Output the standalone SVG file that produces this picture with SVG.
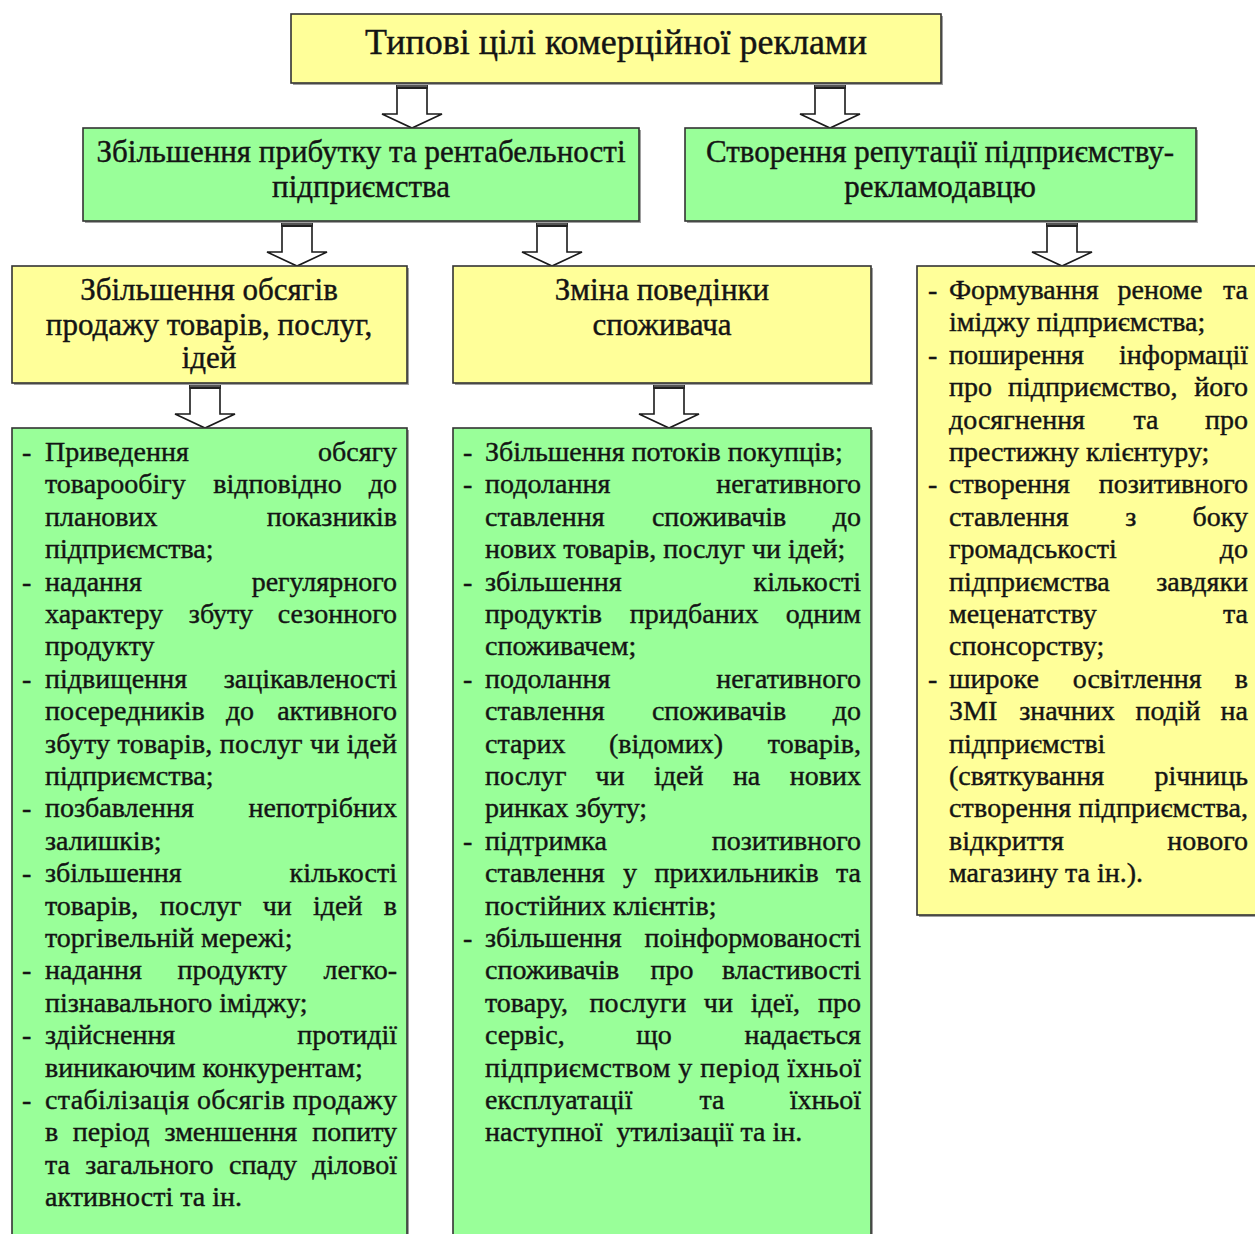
<svg xmlns="http://www.w3.org/2000/svg" xmlns:xlink="http://www.w3.org/1999/xlink" width="1255" height="1234" viewBox="0 0 1255 1234">
<style>
text{font-family:"Liberation Serif","Times New Roman",serif;fill:#141414;stroke:#141414;stroke-width:0.4}
.by{fill:#FFFF99;stroke:#333;stroke-width:1.6}
.bg{fill:#99FF99;stroke:#333;stroke-width:1.6}
.sh{fill:#a0a0a0}
.t{font-size:36px;text-anchor:middle}
.h{font-size:31px;text-anchor:middle}
.b text,.b{font-size:28px}
.m{text-anchor:middle}
.e{text-anchor:end}
.arw{fill:#fff;stroke:#1a1a1a;stroke-width:1.6;stroke-linejoin:miter}
.cap{fill:#222}
</style>
<defs>
<g id="arrow">
<polygon class="arw" points="-15,0 15,0 15,31 30,31 0,45 -30,31 -15,31"/>
<rect class="cap" x="-15.8" y="0" width="31.6" height="6"/>
<line x1="-15" y1="3" x2="15" y2="3" stroke="#888" stroke-width="1"/>
</g>
</defs>
<rect width="1255" height="1234" fill="#fff"/>

<g id="connectors">
<use xlink:href="#arrow" x="412" y="83"/>
<use xlink:href="#arrow" x="830" y="83"/>
<use xlink:href="#arrow" x="297" y="221"/>
<use xlink:href="#arrow" x="552" y="221"/>
<use xlink:href="#arrow" x="1062" y="221"/>
<use xlink:href="#arrow" x="205" y="383"/>
<use xlink:href="#arrow" x="669" y="383"/>
</g>

<g id="node-top">
<rect class="sh" x="293" y="16" width="650" height="69"/>
<rect class="by" x="291" y="14" width="650" height="69"/>
<text class="t" x="616" y="54">Типові цілі комерційної реклами</text>
</g>

<g id="node-profit">
<rect class="sh" x="85" y="130" width="556" height="93"/>
<rect class="bg" x="83" y="128" width="556" height="93"/>
<text class="h" x="361" y="162">Збільшення прибутку та рентабельності</text>
<text class="h" x="361" y="197">підприємства</text>
</g>

<g id="node-reputation">
<rect class="sh" x="687" y="130" width="511" height="93"/>
<rect class="bg" x="685" y="128" width="511" height="93"/>
<text class="h" x="940" y="162">Створення репутації підприємству-</text>
<text class="h" x="940" y="197">рекламодавцю</text>
</g>

<g id="node-sales">
<rect class="sh" x="14" y="268" width="395" height="117"/>
<rect class="by" x="12" y="266" width="395" height="117"/>
<text class="h" x="209" y="300">Збільшення обсягів</text>
<text class="h" x="209" y="335">продажу товарів, послуг,</text>
<text class="h" x="209" y="368">ідей</text>
</g>

<g id="node-behaviour">
<rect class="sh" x="455" y="268" width="418" height="117"/>
<rect class="by" x="453" y="266" width="418" height="117"/>
<text class="h" x="662" y="300">Зміна поведінки</text>
<text class="h" x="662" y="335">споживача</text>
</g>

<g id="node-reputation-list" class="b">
<rect class="sh" x="919" y="268" width="345" height="649"/>
<rect class="by" x="917" y="266" width="345" height="649"/>
<text x="928" y="299">-</text><text x="949" y="299">Формування</text><text class="m" x="1160" y="299">реноме</text><text class="e" x="1248" y="299">та</text>
<text x="949" y="331.4">іміджу підприємства;</text>
<text x="928" y="363.8">-</text><text x="949" y="363.8">поширення</text><text class="e" x="1248" y="363.8">інформації</text>
<text x="949" y="396.2">про</text><text class="m" x="1092.8" y="396.2">підприємство,</text><text class="e" x="1248" y="396.2">його</text>
<text x="949" y="428.6">досягнення</text><text class="m" x="1146" y="428.6">та</text><text class="e" x="1248" y="428.6">про</text>
<text x="949" y="461">престижну клієнтуру;</text>
<text x="928" y="493.4">-</text><text x="949" y="493.4">створення</text><text class="e" x="1248" y="493.4">позитивного</text>
<text x="949" y="525.8">ставлення</text><text class="m" x="1130.9" y="525.8">з</text><text class="e" x="1248" y="525.8">боку</text>
<text x="949" y="558.2">громадськості</text><text class="e" x="1248" y="558.2">до</text>
<text x="949" y="590.6">підприємства</text><text class="e" x="1248" y="590.6">завдяки</text>
<text x="949" y="623">меценатству</text><text class="e" x="1248" y="623">та</text>
<text x="949" y="655.4">спонсорству;</text>
<text x="928" y="687.8">-</text><text x="949" y="687.8">широке</text><text class="m" x="1137.2" y="687.8">освітлення</text><text class="e" x="1248" y="687.8">в</text>
<text x="949" y="720.2">ЗМІ</text><text class="m" x="1067" y="720.2">значних</text><text class="m" x="1168" y="720.2">подій</text><text class="e" x="1248" y="720.2">на</text>
<text x="949" y="752.6">підприємстві</text>
<text x="949" y="785">(святкування</text><text class="e" x="1248" y="785">річниць</text>
<text x="949" y="817.4" textLength="299" lengthAdjust="spacing">створення підприємства,</text>
<text x="949" y="849.8">відкриття</text><text class="e" x="1248" y="849.8">нового</text>
<text x="949" y="882.2">магазину та ін.).</text>
</g>

<g id="node-sales-list" class="b">
<rect class="sh" x="14" y="430" width="395" height="820"/>
<rect class="bg" x="12" y="428" width="395" height="820"/>
<text x="22" y="461">-</text><text x="45" y="461">Приведення</text><text class="e" x="397" y="461">обсягу</text>
<text x="45" y="493.4">товарообігу</text><text class="m" x="277.6" y="493.4">відповідно</text><text class="e" x="397" y="493.4">до</text>
<text x="45" y="525.8">планових</text><text class="e" x="397" y="525.8">показників</text>
<text x="45" y="558.2">підприємства;</text>
<text x="22" y="590.6">-</text><text x="45" y="590.6">надання</text><text class="e" x="397" y="590.6">регулярного</text>
<text x="45" y="623">характеру</text><text class="m" x="220.9" y="623">збуту</text><text class="e" x="397" y="623">сезонного</text>
<text x="45" y="655.4">продукту</text>
<text x="22" y="687.8">-</text><text x="45" y="687.8">підвищення</text><text class="e" x="397" y="687.8">зацікавленості</text>
<text x="45" y="720.2">посередників</text><text class="m" x="240" y="720.2">до</text><text class="e" x="397" y="720.2">активного</text>
<text x="45" y="752.6" textLength="352" lengthAdjust="spacing">збуту товарів, послуг чи ідей</text>
<text x="45" y="785">підприємства;</text>
<text x="22" y="817.4">-</text><text x="45" y="817.4">позбавлення</text><text class="e" x="397" y="817.4">непотрібних</text>
<text x="45" y="849.8">залишків;</text>
<text x="22" y="882.2">-</text><text x="45" y="882.2">збільшення</text><text class="e" x="397" y="882.2">кількості</text>
<text x="45" y="914.6">товарів,</text><text class="m" x="200.8" y="914.6">послуг</text><text class="m" x="277.2" y="914.6">чи</text><text class="m" x="337.7" y="914.6">ідей</text><text class="e" x="397" y="914.6">в</text>
<text x="45" y="947">торгівельній мережі;</text>
<text x="22" y="979.4">-</text><text x="45" y="979.4">надання</text><text class="m" x="232.3" y="979.4">продукту</text><text class="e" x="397" y="979.4">легко-</text>
<text x="45" y="1011.8">пізнавального іміджу;</text>
<text x="22" y="1044.2">-</text><text x="45" y="1044.2">здійснення</text><text class="e" x="397" y="1044.2">протидії</text>
<text x="45" y="1076.6">виникаючим конкурентам;</text>
<text x="22" y="1109">-</text><text x="45" y="1109" textLength="352" lengthAdjust="spacing">стабілізація обсягів продажу</text>
<text x="45" y="1141.4">в</text><text class="m" x="111.1" y="1141.4">період</text><text class="m" x="230.8" y="1141.4">зменшення</text><text class="e" x="397" y="1141.4">попиту</text>
<text x="45" y="1173.8">та</text><text class="m" x="149.4" y="1173.8">загального</text><text class="m" x="263" y="1173.8">спаду</text><text class="e" x="397" y="1173.8">ділової</text>
<text x="45" y="1206.2">активності та ін.</text>
</g>

<g id="node-behaviour-list" class="b">
<rect class="sh" x="455" y="430" width="418" height="820"/>
<rect class="bg" x="453" y="428" width="418" height="820"/>
<text x="463" y="461">-</text><text x="485" y="461">Збільшення потоків покупців;</text>
<text x="463" y="493.4">-</text><text x="485" y="493.4">подолання</text><text class="e" x="861" y="493.4">негативного</text>
<text x="485" y="525.8">ставлення</text><text class="m" x="719.1" y="525.8">споживачів</text><text class="e" x="861" y="525.8">до</text>
<text x="485" y="558.2">нових товарів, послуг чи ідей;</text>
<text x="463" y="590.6">-</text><text x="485" y="590.6">збільшення</text><text class="e" x="861" y="590.6">кількості</text>
<text x="485" y="623">продуктів</text><text class="m" x="694.2" y="623">придбаних</text><text class="e" x="861" y="623">одним</text>
<text x="485" y="655.4">споживачем;</text>
<text x="463" y="687.8">-</text><text x="485" y="687.8">подолання</text><text class="e" x="861" y="687.8">негативного</text>
<text x="485" y="720.2">ставлення</text><text class="m" x="719.1" y="720.2">споживачів</text><text class="e" x="861" y="720.2">до</text>
<text x="485" y="752.6">старих</text><text class="m" x="666.1" y="752.6">(відомих)</text><text class="e" x="861" y="752.6">товарів,</text>
<text x="485" y="785">послуг</text><text class="m" x="610" y="785">чи</text><text class="m" x="678.7" y="785">ідей</text><text class="m" x="746.6" y="785">на</text><text class="e" x="861" y="785">нових</text>
<text x="485" y="817.4">ринках збуту;</text>
<text x="463" y="849.8">-</text><text x="485" y="849.8">підтримка</text><text class="e" x="861" y="849.8">позитивного</text>
<text x="485" y="882.2">ставлення</text><text class="m" x="629.9" y="882.2">у</text><text class="m" x="736.6" y="882.2">прихильників</text><text class="e" x="861" y="882.2">та</text>
<text x="485" y="914.6">постійних клієнтів;</text>
<text x="463" y="947">-</text><text x="485" y="947">збільшення</text><text class="e" x="861" y="947">поінформованості</text>
<text x="485" y="979.4">споживачів</text><text class="m" x="672" y="979.4">про</text><text class="e" x="861" y="979.4">властивості</text>
<text x="485" y="1011.8">товару,</text><text class="m" x="637.9" y="1011.8">послуги</text><text class="m" x="718.4" y="1011.8">чи</text><text class="m" x="775.4" y="1011.8">ідеї,</text><text class="e" x="861" y="1011.8">про</text>
<text x="485" y="1044.2">сервіс,</text><text class="m" x="654" y="1044.2">що</text><text class="e" x="861" y="1044.2">надається</text>
<text x="485" y="1076.6" textLength="376" lengthAdjust="spacing">підприємством у період їхньої</text>
<text x="485" y="1109">експлуатації</text><text class="m" x="711.9" y="1109">та</text><text class="e" x="861" y="1109">їхньої</text>
<text x="485" y="1141.4" xml:space="preserve">наступної  утилізації та ін.</text>
</g>
</svg>
